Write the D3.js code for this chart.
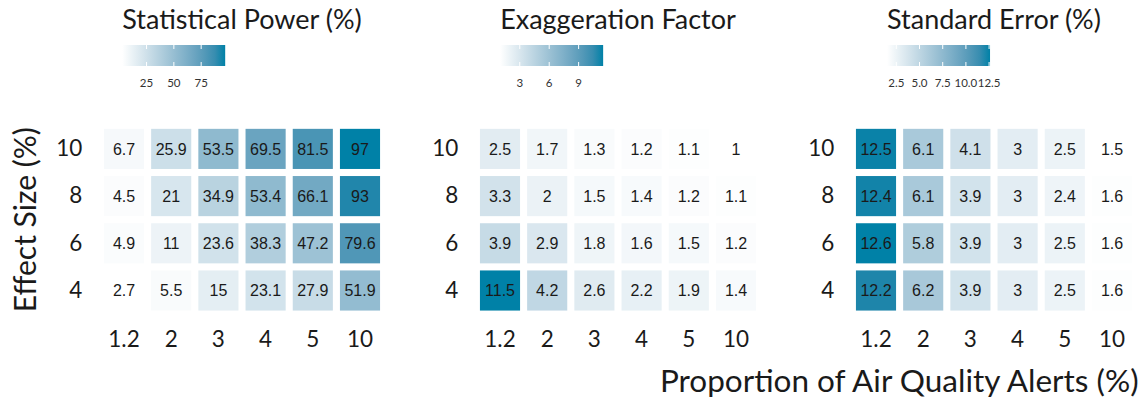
<!DOCTYPE html>
<html>
<head>
<meta charset="utf-8">
<script src="https://cdn.jsdelivr.net/npm/d3@7"></script>
<style>
  body { margin: 0; background: #fff; }
  svg text { font-family: Lato, sans-serif; }
</style>
</head>
<body>
<div id="chart"></div>
<script>
// categories
const alertCats  = ['1.2', '2', '3', '4', '5', '10'];
const effectCats = ['4', '6', '8', '10'];

// one row per effect size (4, 6, 8, 10), one value per alert proportion
const powerValues = [
  [2.7, 5.5, 15, 23.1, 27.9, 51.9],
  [4.9, 11, 23.6, 38.3, 47.2, 79.6],
  [4.5, 21, 34.9, 53.4, 66.1, 93],
  [6.7, 25.9, 53.5, 69.5, 81.5, 97]
];
const exaggerationValues = [
  [11.5, 4.2, 2.6, 2.2, 1.9, 1.4],
  [3.9, 2.9, 1.8, 1.6, 1.5, 1.2],
  [3.3, 2, 1.5, 1.4, 1.2, 1.1],
  [2.5, 1.7, 1.3, 1.2, 1.1, 1]
];
const seValues = [
  [12.2, 6.2, 3.9, 3, 2.5, 1.6],
  [12.6, 5.8, 3.9, 3, 2.5, 1.6],
  [12.4, 6.1, 3.9, 3, 2.4, 1.6],
  [12.5, 6.1, 4.1, 3, 2.5, 1.5]
];

// legend ticks
const powerTicks = [25, 50, 75];
const exaggerationTicks = [3, 6, 9];
const seTicks = [2.5, 5, 7.5, 10, 12.5];

const panels = [
  {title: 'Statistical Power (%)', values: powerValues, ticks: powerTicks, fmt: d => d},
  {title: 'Exaggeration Factor',   values: exaggerationValues, ticks: exaggerationTicks, fmt: d => d},
  {title: 'Standard Error (%)',    values: seValues, ticks: seTicks, fmt: d3.format('.1f')}
];

const width = 1143, height = 403;
const panelLeft  = [100.4, 476.4, 852.4];
const panelWidth = 283.2;
const gridTop = 125.3, gridBottom = 314.1;
const lowColor = '#ffffff', highColor = '#0081a7';

const svg = d3.select('#chart').append('svg')
  .attr('width', width)
  .attr('height', height);

const defs = svg.append('defs');

const yScale = d3.scaleBand()
  .domain(effectCats.slice().reverse())
  .range([gridTop, gridBottom])
  .paddingInner(0.15)
  .paddingOuter(0.075);

panels.forEach((p, i) => {
  const x0 = panelLeft[i];
  const xScale = d3.scaleBand()
    .domain(alertCats)
    .range([x0, x0 + panelWidth])
    .paddingInner(0.15)
    .paddingOuter(0.075);

  const cells = [];
  p.values.forEach((row, r) => row.forEach((v, c) => {
    cells.push({effect: effectCats[r], alert: alertCats[c], value: v});
  }));
  const extent = d3.extent(cells, d => d.value);
  const color = d3.scaleLinear()
    .domain(extent)
    .range([lowColor, highColor])
    .interpolate(d3.interpolateLab);

  const g = svg.append('g');

  // tiles
  g.selectAll('rect.tile')
    .data(cells)
    .enter()
    .append('rect')
      .attr('class', 'tile')
      .attr('x', d => xScale(d.alert))
      .attr('y', d => yScale(d.effect))
      .attr('width', xScale.bandwidth())
      .attr('height', yScale.bandwidth())
      .style('fill', d => color(d.value));

  g.selectAll('text.cell')
    .data(cells)
    .enter()
    .append('text')
      .attr('class', 'cell')
      .attr('x', d => xScale(d.alert) + xScale.bandwidth() / 2)
      .attr('y', d => yScale(d.effect) + yScale.bandwidth() / 2)
      .attr('dy', '0.36em')
      .style('font-family', '"Liberation Sans", Arial, sans-serif')
      .style('font-size', '16px')
      .style('fill', '#1a1a1a')
      .style('text-anchor', 'middle')
      .text(d => d.value);

  // x-axis
  g.append('g')
    .attr('transform', `translate(0, ${gridBottom + 17})`)
    .call(d3.axisBottom(xScale).tickSize(0).tickPadding(0))
    .call(a => a.select('.domain').remove())
    .selectAll('text')
      .attr('dy', '0.71em')
      .style('font-family', 'Lato, sans-serif')
      .style('font-size', '22.5px')
      .style('fill', '#1a1a1a');

  // y-axis
  g.append('g')
    .attr('transform', `translate(${x0 - 18}, 0)`)
    .call(d3.axisLeft(yScale).tickSize(0).tickPadding(0))
    .call(a => a.select('.domain').remove())
    .selectAll('text')
      .style('font-family', 'Lato, sans-serif')
      .style('font-size', '22.5px')
      .style('fill', '#1a1a1a');

  // legend title
  const cx = x0 + panelWidth / 2;
  const title = svg.append('text')
    .attr('x', cx)
    .attr('y', 29)
    .style('font-size', '27px')
    .style('fill', '#1a1a1a')
    .style('text-anchor', 'middle')
    .text(p.title);
  const titleLeft = cx - title.node().getComputedTextLength() / 2;

  // legend colour bar
  const barW = 103, barH = 21, barY = 45;
  const gradId = 'grad' + i;
  const grad = defs.append('linearGradient').attr('id', gradId);
  d3.range(0, 1.0001, 0.1).forEach(t => {
    grad.append('stop')
      .attr('offset', t)
      .attr('stop-color', color(extent[0] + t * (extent[1] - extent[0])));
  });
  svg.append('rect')
    .attr('x', titleLeft)
    .attr('y', barY)
    .attr('width', barW)
    .attr('height', barH)
    .style('fill', `url(#${gradId})`);

  const legScale = d3.scaleLinear().domain(extent).range([titleLeft, titleLeft + barW]);
  const lg = svg.append('g');
  p.ticks.forEach(t => {
    const tx = legScale(t);
    lg.append('line').attr('x1', tx).attr('x2', tx).attr('y1', barY).attr('y2', barY + 4)
      .style('stroke', '#fff').style('stroke-width', 1);
    lg.append('line').attr('x1', tx).attr('x2', tx).attr('y1', barY + barH - 4).attr('y2', barY + barH)
      .style('stroke', '#fff').style('stroke-width', 1);
    lg.append('text')
      .attr('x', tx)
      .attr('y', 87)
      .style('font-size', '11.5px')
      .style('fill', '#333')
      .style('text-anchor', 'middle')
      .text(p.fmt(t));
  });
});

// axis titles
svg.append('text')
  .attr('transform', `translate(36, ${(gridTop + gridBottom) / 2}) rotate(-90)`)
  .style('font-size', '30px')
  .style('fill', '#1a1a1a')
  .style('text-anchor', 'middle')
  .text('Effect Size (%)');

svg.append('text')
  .attr('x', panelLeft[2] + panelWidth + 3)
  .attr('y', 392)
  .style('font-size', '31.5px')
  .style('fill', '#1a1a1a')
  .style('text-anchor', 'end')
  .text('Proportion of Air Quality Alerts (%)');
</script>
</body>
</html>
